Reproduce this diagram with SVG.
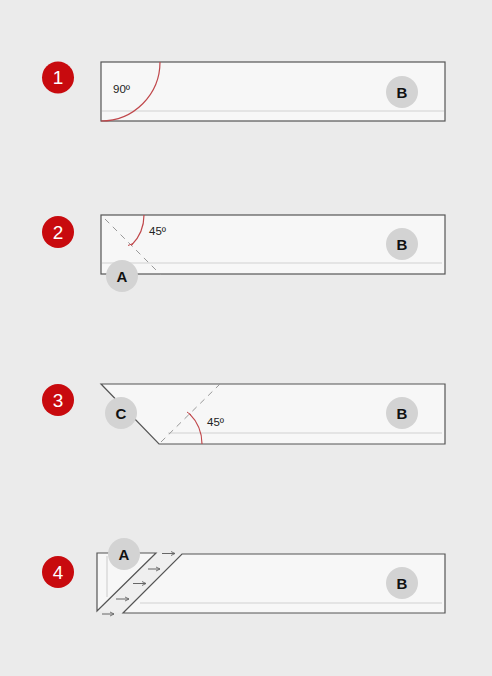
<svg xmlns="http://www.w3.org/2000/svg" width="492" height="676" viewBox="0 0 492 676">
<style>
.panel{fill:#f7f7f7;stroke:#555;stroke-width:1.2}
.inner{stroke:#d2d2d2;stroke-width:1.2;fill:none}
.arc{fill:none;stroke:#c0474b;stroke-width:1.2}
.dash{stroke:#999;stroke-width:1;stroke-dasharray:6 5;fill:none}
.badge{fill:#c80a0e}
.bt{font-family:"Liberation Sans",Arial,sans-serif;font-size:19px;fill:#fff;text-anchor:middle}
.lc{fill:#d3d3d3}
.lt{font-family:"Liberation Sans",Arial,sans-serif;font-size:15px;font-weight:bold;fill:#111;text-anchor:middle}
.ang{font-family:"Liberation Sans",Arial,sans-serif;font-size:11.5px;fill:#222}
.arr{stroke:#666;stroke-width:1;fill:none}
</style>
<defs>
<marker id="ah" markerWidth="6" markerHeight="6" refX="5" refY="3" orient="auto" markerUnits="userSpaceOnUse">
<path d="M1,1 L5,3 L1,5" fill="none" stroke="#666" stroke-width="0.9"/>
</marker>
</defs>
<rect width="492" height="676" fill="#ebebeb"/>

<g id="step1">
<circle class="badge" cx="58" cy="77.5" r="16"/>
<text class="bt" x="58" y="84.3">1</text>
<rect class="panel" x="101" y="62" width="344" height="59"/>
<line class="inner" x1="102" y1="111" x2="444" y2="111"/>
<path class="arc" d="M160,62 A59,59 0 0 1 101,121"/>
<text class="ang" x="113" y="93">90º</text>
<circle class="lc" cx="402" cy="92" r="16"/>
<text class="lt" x="402" y="97.5">B</text>
</g>

<g id="step2">
<circle class="badge" cx="58" cy="232" r="16"/>
<text class="bt" x="58" y="238.8">2</text>
<rect class="panel" x="101" y="215" width="344" height="59"/>
<line class="inner" x1="102" y1="263" x2="442" y2="263"/>
<line class="dash" x1="105" y1="219" x2="161" y2="275"/>
<path class="arc" d="M144,215 A43,43 0 0 1 131.4,245.4"/>
<line x1="128" y1="245.5" x2="133" y2="243.5" stroke="#c0474b" stroke-width="1"/>
<text class="ang" x="149" y="235">45º</text>
<circle class="lc" cx="122" cy="276" r="16"/>
<text class="lt" x="122" y="281.5">A</text>
<circle class="lc" cx="402" cy="244" r="16"/>
<text class="lt" x="402" y="249.5">B</text>
</g>

<g id="step3">
<circle class="badge" cx="58" cy="400" r="16"/>
<text class="bt" x="58" y="406.8">3</text>
<polygon class="panel" points="101,384 445,384 445,444 159,444"/>
<line class="inner" x1="168" y1="433" x2="442" y2="433"/>
<line class="dash" x1="161" y1="442" x2="220" y2="384"/>
<path class="arc" d="M202,444 A43,43 0 0 0 189.4,413.6"/>
<line x1="187" y1="412" x2="191" y2="415" stroke="#c0474b" stroke-width="1"/>
<text class="ang" x="207" y="426">45º</text>
<circle class="lc" cx="121" cy="413" r="16"/>
<text class="lt" x="121" y="418.5">C</text>
<circle class="lc" cx="402" cy="413" r="16"/>
<text class="lt" x="402" y="418.5">B</text>
</g>

<g id="step4">
<circle class="badge" cx="58" cy="572" r="16"/>
<text class="bt" x="58" y="578.8">4</text>
<polygon points="156,553 182,554 123,613 97,611" fill="#efefef"/>
<polygon class="panel" points="97,553 156,553 97,611"/>
<line class="inner" x1="107" y1="556" x2="107" y2="597"/>
<polygon class="panel" points="182,554 445,554 445,613 123,613"/>
<line class="inner" x1="140" y1="603" x2="442" y2="603"/>
<line class="arr" x1="162" y1="553.5" x2="175" y2="553.5" marker-end="url(#ah)"/>
<line class="arr" x1="148" y1="569" x2="160" y2="569" marker-end="url(#ah)"/>
<line class="arr" x1="133" y1="583.5" x2="146" y2="583.5" marker-end="url(#ah)"/>
<line class="arr" x1="116" y1="599" x2="129" y2="599" marker-end="url(#ah)"/>
<line class="arr" x1="102" y1="614" x2="114" y2="614" marker-end="url(#ah)"/>
<circle class="lc" cx="124" cy="554" r="16"/>
<text class="lt" x="124" y="559.5">A</text>
<circle class="lc" cx="402" cy="583" r="16"/>
<text class="lt" x="402" y="588.5">B</text>
</g>
</svg>
